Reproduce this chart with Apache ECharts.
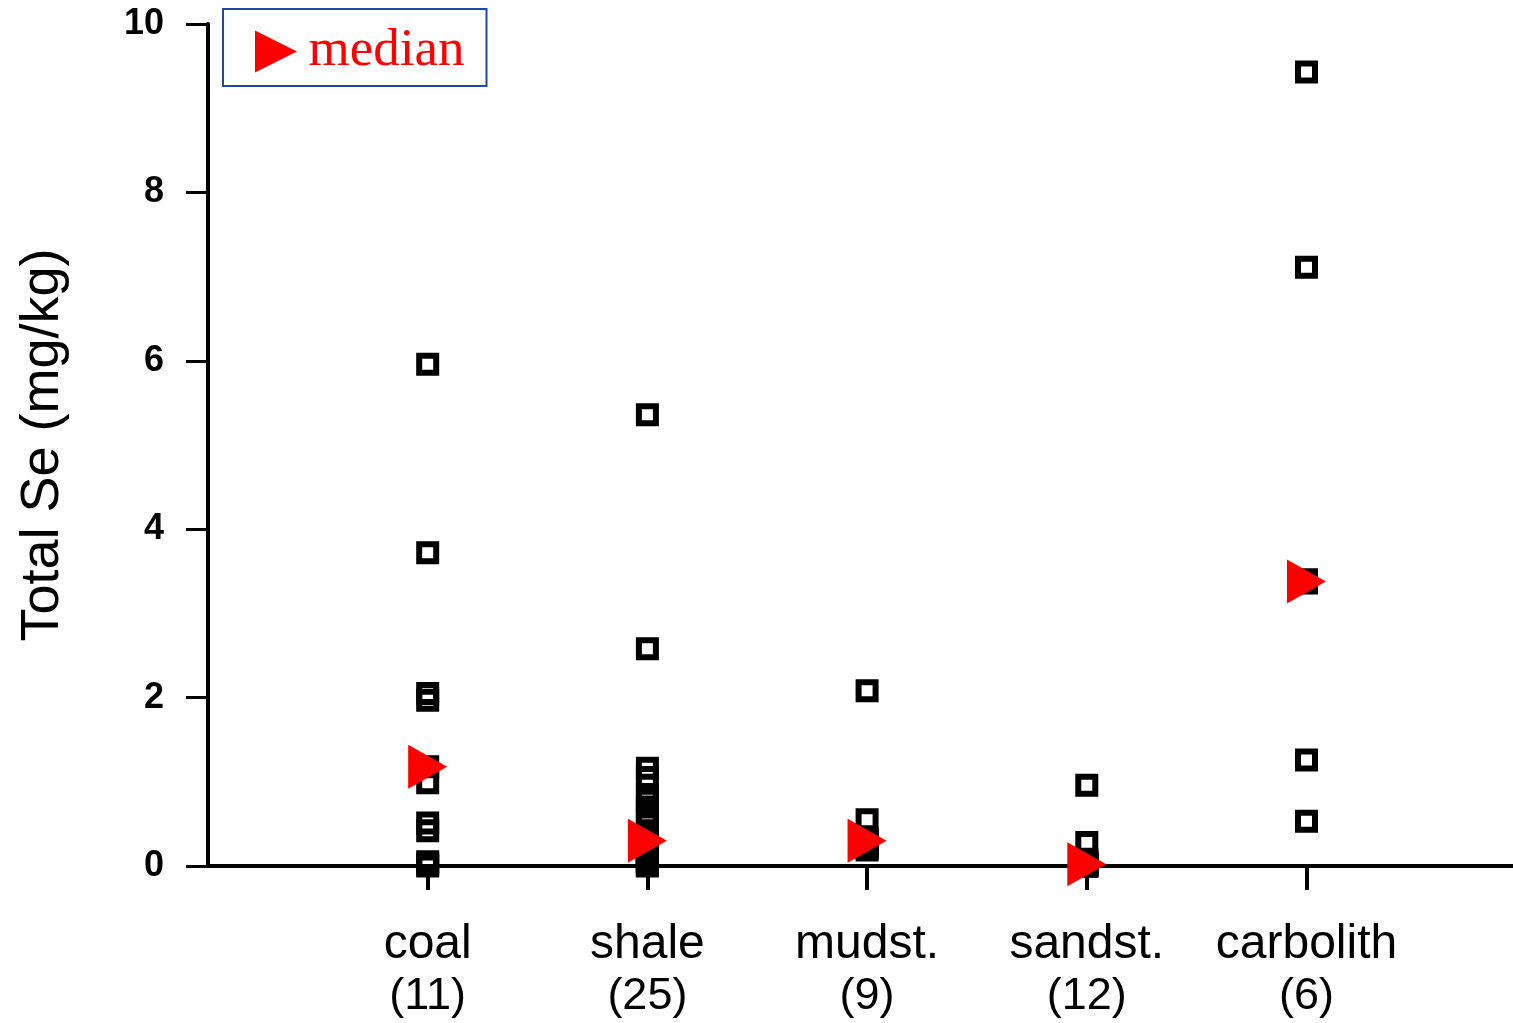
<!DOCTYPE html>
<html>
<head>
<meta charset="utf-8">
<script src="https://cdn.jsdelivr.net/npm/echarts@6/dist/echarts.min.js"></script>
<style>
html,body{margin:0;padding:0;background:#fff;}
#chart{width:1513px;height:1023px;}
</style>
</head>
<body>
<div id="chart"></div>
<script>
// categories and sample counts
var categories = ['coal', 'shale', 'mudst.', 'sandst.', 'carbolith'];
var counts = [11, 25, 9, 12, 6];
// Total Se values (mg/kg) per rock type
var coal = [5.96, 3.72, 2.05, 1.97, 1.18, 0.99, 0.51, 0.42, 0.05, 0.02, 0.0];
var shale = [5.36, 2.58, 1.16, 1.05, 0.85, 0.78, 0.7, 0.6, 0.55, 0.42, 0.38, 0.34, 0.3, 0.24, 0.21, 0.18, 0.15, 0.12, 0.1, 0.08, 0.06, 0.04, 0.03, 0.01, 0.0];
var mudst = [2.08, 0.55, 0.33, 0.3, 0.28, 0.25, 0.23, 0.21, 0.19];
var sandst = [0.96, 0.28, 0.08, 0.06, 0.04, 0.03, 0.02, 0.01, 0.01, 0.0, 0.0, 0.0];
var carbolith = [9.43, 7.11, 3.40, 3.36, 1.26, 0.53];
// medians
var medians = [1.18, 0.30, 0.30, 0.02, 3.38];
// y tick values
var yTicks = [0, 2, 4, 6, 8, 10];

var groups = [coal, shale, mudst, sandst, carbolith];
var pointData = [];
groups.forEach(function (g, i) {
  g.forEach(function (v) { pointData.push([i + 1, v]); });
});
var medianData = medians.map(function (v, i) { return [i + 1, v]; });
var catPos = categories.map(function (c, i) { return i + 1; });

var chart = echarts.init(document.getElementById('chart'));
chart.setOption({
  animation: false,
  backgroundColor: '#fff',
  grid: { left: 208, right: 0, top: 24, bottom: 157, containLabel: false },
  legend: {
    left: 223, top: 9,
    padding: [16, 22, 8, 32],
    borderColor: '#1f47a8', borderWidth: 2,
    itemWidth: 43, itemHeight: 42,
    data: [{ name: 'median', icon: 'path://M0,0L10,5L0,10Z' }],
    textStyle: { color: '#ff0000', fontSize: 53, fontFamily: '"Liberation Serif", "DejaVu Serif", serif', padding: [0, 0, 0, 6] },
    selectedMode: false
  },
  xAxis: {
    type: 'value', min: 0, max: 5.94,
    splitLine: { show: false },
    axisLine: { show: true, lineStyle: { color: '#000', width: 4 } },
    axisTick: { show: true, customValues: catPos, length: 24, lineStyle: { color: '#000', width: 4 } },
    axisLabel: {
      show: true, customValues: catPos, margin: 57,
      formatter: function (v) {
        var i = Math.round(v) - 1;
        return '{a|' + categories[i] + '}\n{b|(' + counts[i] + ')}';
      },
      rich: {
        a: { fontSize: 48, lineHeight: 44, color: '#000', fontFamily: '"Liberation Sans", Arial, sans-serif' },
        b: { fontSize: 45, lineHeight: 60, color: '#000', fontFamily: '"Liberation Sans", Arial, sans-serif' }
      }
    }
  },
  yAxis: {
    type: 'value', min: 0, max: 10, interval: 2,
    name: 'Total Se (mg/kg)', nameLocation: 'middle', nameGap: 138,
    nameTextStyle: { fontSize: 54, color: '#000', fontFamily: '"Liberation Sans", Arial, sans-serif' },
    splitLine: { show: false },
    axisLine: { show: true, lineStyle: { color: '#000', width: 4 } },
    axisTick: { show: true, length: 22, lineStyle: { color: '#000', width: 3 } },
    axisLabel: {
      margin: 44, color: '#000', fontSize: 36, fontWeight: 'bold',
      fontFamily: '"Liberation Sans", Arial, sans-serif',
      customValues: yTicks
    }
  },
  series: [
    {
      name: 'data', type: 'scatter', clip: false, z: 2,
      symbol: 'rect', symbolSize: 17,
      itemStyle: { color: 'rgba(0,0,0,0)', borderColor: '#000', borderWidth: 6, opacity: 1 },
      data: pointData
    },
    {
      name: 'median', type: 'scatter', clip: false, z: 3,
      symbol: 'triangle', symbolSize: [44, 39], symbolRotate: -90,
      itemStyle: { color: '#ff0000', opacity: 1 },
      data: medianData
    }
  ]
});
</script>
</body>
</html>
